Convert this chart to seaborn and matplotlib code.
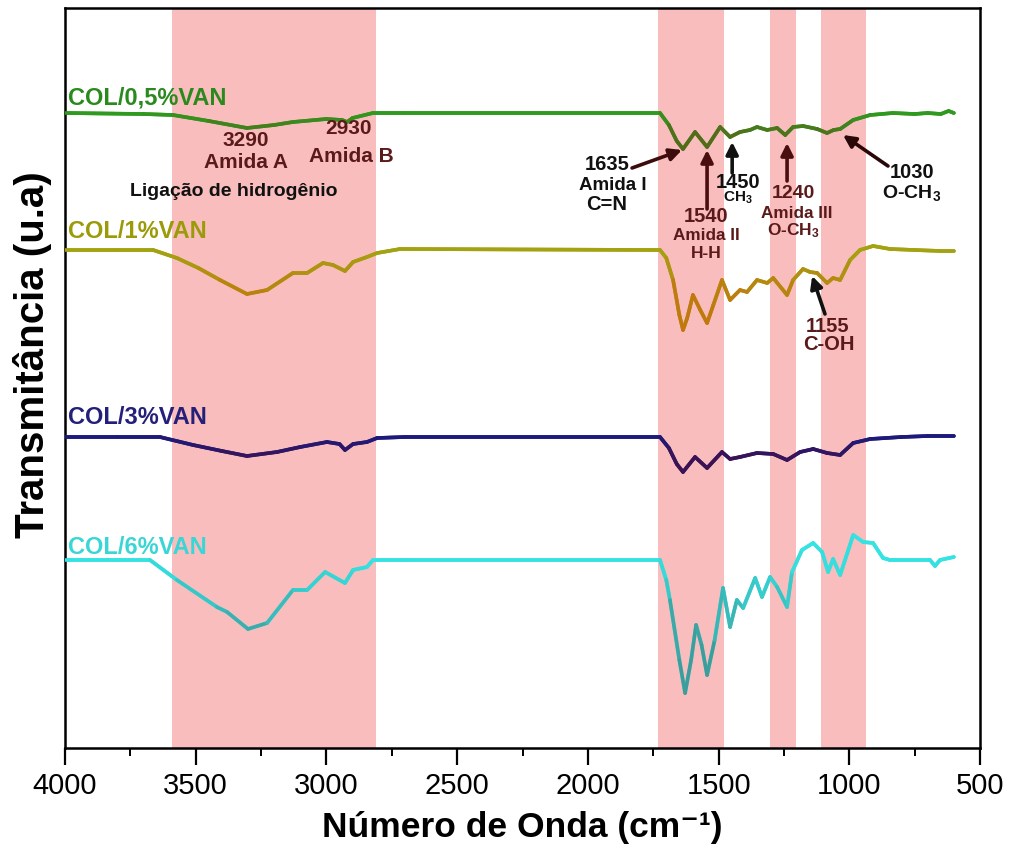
import matplotlib
matplotlib.use("Agg")
import matplotlib.pyplot as plt
import matplotlib.colors as mcolors
from matplotlib.collections import LineCollection
import numpy as np
import seaborn as sns

# FTIR spectra (wavenumber cm-1, transmittance a.u., stacked)
wn_05 = [4000, 3700, 3587, 3450, 3304, 3200, 3128, 3000, 2940, 2921, 2900, 2822, 2700,
         1724, 1690, 1660, 1636, 1590, 1544, 1494, 1456, 1418, 1380, 1353, 1314, 1276,
         1245, 1215, 1177, 1123, 1085, 1060, 1035, 985, 920, 833, 750, 700, 650, 620, 600]
t_05 = [635, 634, 633, 627, 620, 623, 626, 629, 628, 626, 630, 635, 635,
        635, 623, 607, 599, 616, 601, 621, 611, 616, 618, 621, 618, 620,
        613, 621, 622, 619, 615, 618, 619, 628, 633, 635, 634, 635, 634, 637, 635]

wn_1 = [4000, 3800, 3663, 3572, 3490, 3407, 3304, 3227, 3128, 3074, 3013, 2975, 2929,
        2898, 2845, 2806, 2718, 1724, 1700, 1674, 1650, 1636, 1620, 1598, 1570, 1544,
        1520, 1487, 1456, 1418, 1391, 1353, 1314, 1291, 1238, 1215, 1177, 1150, 1123,
        1085, 1062, 1035, 997, 959, 909, 844, 750, 650, 600]
t_1 = [498, 498, 498, 490, 480, 468, 454, 458, 475, 475, 485, 483, 477,
       486, 491, 495, 499, 498, 490, 468, 433, 418, 430, 453, 438, 425,
       443, 468, 448, 458, 456, 468, 465, 470, 453, 468, 479, 476, 475,
       465, 470, 468, 488, 498, 502, 499, 498, 497, 497]

wn_3 = [4000, 3800, 3637, 3510, 3400, 3304, 3189, 3100, 2998, 2950, 2929, 2898, 2845,
        2806, 2700, 1724, 1690, 1660, 1636, 1590, 1544, 1487, 1456, 1418, 1353, 1291,
        1238, 1188, 1138, 1085, 1035, 985, 920, 800, 700, 600]
t_3 = [311, 311, 311, 303, 297, 292, 296, 301, 306, 304, 298, 304, 306,
       310, 311, 311, 300, 284, 276, 291, 280, 296, 289, 291, 295, 294,
       288, 296, 299, 295, 293, 305, 309, 311, 312, 312]

wn_6 = [4000, 3800, 3675, 3572, 3419, 3380, 3300, 3227, 3128, 3074, 3005, 2929, 2898,
        2845, 2822, 2700, 1724, 1700, 1686, 1650, 1628, 1605, 1586, 1565, 1544, 1515,
        1483, 1456, 1430, 1406, 1360, 1334, 1303, 1276, 1238, 1219, 1181, 1138, 1104,
        1081, 1062, 1035, 985, 947, 909, 871, 844, 691, 672, 653, 600]
t_6 = [188, 188, 188, 168, 141, 136, 119, 125, 158, 158, 176, 165, 178,
       181, 188, 188, 188, 168, 148, 88, 55, 88, 123, 103, 73, 108,
       160, 121, 148, 140, 170, 151, 171, 161, 141, 176, 198, 205, 196,
       176, 189, 173, 213, 206, 205, 190, 188, 188, 182, 188, 191]

series_names = ["COL/0,5%VAN", "COL/1%VAN", "COL/3%VAN", "COL/6%VAN"]
light_colors = ["#2f9a1f", "#a3a312", "#1c1a7c", "#36e3e3"]
dark_colors = ["#556b1a", "#c2780f", "#3e1252", "#3f9c9c"]
label_colors = ["#2a8a1e", "#9b9b0a", "#24207a", "#3ad6d6"]
label_y = [650, 517, 330, 200]

bands = [(3590, 2810), (1730, 1480), (1305, 1205), (1110, 935)]

sns.set_style("white")
plt.rcParams['font.family'] = ['Liberation Sans', 'DejaVu Sans']
plt.rcParams['mathtext.fontset'] = 'custom'
plt.rcParams['mathtext.rm'] = 'Liberation Sans:bold'
plt.rcParams['mathtext.it'] = 'Liberation Sans:bold'
plt.rcParams['mathtext.bf'] = 'Liberation Sans:bold'
plt.rcParams['text.color'] = 'black'
plt.rcParams['axes.labelcolor'] = 'black'
plt.rcParams['xtick.color'] = 'black'

fig = plt.figure(figsize=(10.09, 8.59), dpi=100)
ax = fig.add_axes([65 / 1009, 111 / 859, 915 / 1009, 740 / 859])

for lo, hi in bands:
    ax.axvspan(lo, hi, color="#f9bdbd", lw=0, zorder=0)

all_wn = [wn_05, wn_1, wn_3, wn_6]
all_t = [t_05, t_1, t_3, t_6]
for wn, t, lc, dc, name, lcol, ly in zip(all_wn, all_t, light_colors, dark_colors,
                                         series_names, label_colors, label_y):
    wn = np.array(wn, float)
    t = np.array(t, float)
    sns.lineplot(x=wn, y=t, sort=False, color=lc, lw=2.6, ax=ax, zorder=2)
    # shade the trace darker where the band is deeper
    base = t[0]
    depth = np.clip((base - t) / max(base - t.min(), 1), 0, 1)
    mid = 0.5 * (depth[:-1] + depth[1:])
    c1 = np.array(mcolors.to_rgb(lc))
    c2 = np.array(mcolors.to_rgb(dc))
    cols = [tuple(c1 + (c2 - c1) * min(1, m * 1.6)) for m in mid]
    pts = np.column_stack([wn, t]).reshape(-1, 1, 2)
    segs = np.concatenate([pts[:-1], pts[1:]], axis=1)
    ax.add_collection(LineCollection(segs, colors=cols, lw=2.6, capstyle="round",
                                     joinstyle="round", zorder=3))
    ax.text(3989, ly, name, color=lcol, fontsize=17, fontweight="bold",
            ha="left", va="center")

maroon = "#5b1a1a"
dark = "#111111"


def lab(x, y, s, c, fs=14):
    ax.text(x, y, s, color=c, fontsize=fs, fontweight="bold", ha="center", va="center")


def arrow(x0, y0, x1, y1, c):
    ax.annotate("", xy=(x1, y1), xytext=(x0, y0),
                arrowprops=dict(arrowstyle="-|>", color=c, lw=2.6, mutation_scale=18,
                                shrinkA=0, shrinkB=0), zorder=5)


lab(3308, 607, "3290", maroon, 15)
lab(3308, 586, "Amida A", maroon, 15)
lab(2917, 619, "2930", maroon, 15)
lab(2905, 592, "Amida B", maroon, 15)
lab(3353, 556, "Ligação de hidrogênio", dark, 14)

lab(1927, 584, "1635", dark, 14.5)
lab(1904, 563, "Amida I", dark, 13.5)
lab(1927, 543, "C=N", dark, 14.5)
arrow(1831, 580, 1640, 598, "#3d0c0c")

lab(1548, 531, "1540", maroon, 14.5)
lab(1548, 513, "Amida II", maroon, 12.3)
lab(1548, 495, "H-H", maroon, 12.5)
arrow(1544, 539, 1544, 598, "#4a0e0e")

lab(1425, 566, "1450", dark, 14.5)
lab(1425, 550, "CH$_3$", dark, 11)
arrow(1448, 575, 1448, 606, dark)

lab(1215, 555, "1240", maroon, 14)
lab(1200, 535, "Amida III", maroon, 12.3)
lab(1215, 517, "O-CH$_3$", maroon, 12.5)
arrow(1238, 567, 1238, 605, "#4a0e0e")

lab(760, 576, "1030", dark, 14.5)
lab(760, 555, "O-CH$_3$", dark, 14)
arrow(852, 582, 1024, 613, "#2a0808")

lab(1085, 421, "1155", maroon, 14.5)
lab(1077, 403, "C-OH", maroon, 14.5)
arrow(1093, 434, 1142, 472, dark)

ax.set_xlim(4000, 500)
ax.set_ylim(0, 740)
ax.set_xticks(np.arange(4000, 499, -500))
ax.set_xticks(np.arange(3750, 500, -500), minor=True)
ax.set_yticks([])
ax.tick_params(axis="x", which="major", direction="out", length=12, width=1.6,
               labelsize=21, pad=5, bottom=True, colors="black")
ax.tick_params(axis="x", which="minor", direction="out", length=6, width=1.4,
               bottom=True, colors="black")
for s in ax.spines.values():
    s.set_color("black")
    s.set_linewidth(1.8)

ax.set_xlabel("Número de Onda (cm⁻¹)", fontsize=25.5, fontweight="bold", labelpad=8,
              color="black")
ax.set_ylabel("Transmitância (u.a)", fontsize=29, fontweight="bold", color="black")
ax.yaxis.set_label_coords(-0.014, 0.531)

fig.savefig("out.png", dpi=100)
